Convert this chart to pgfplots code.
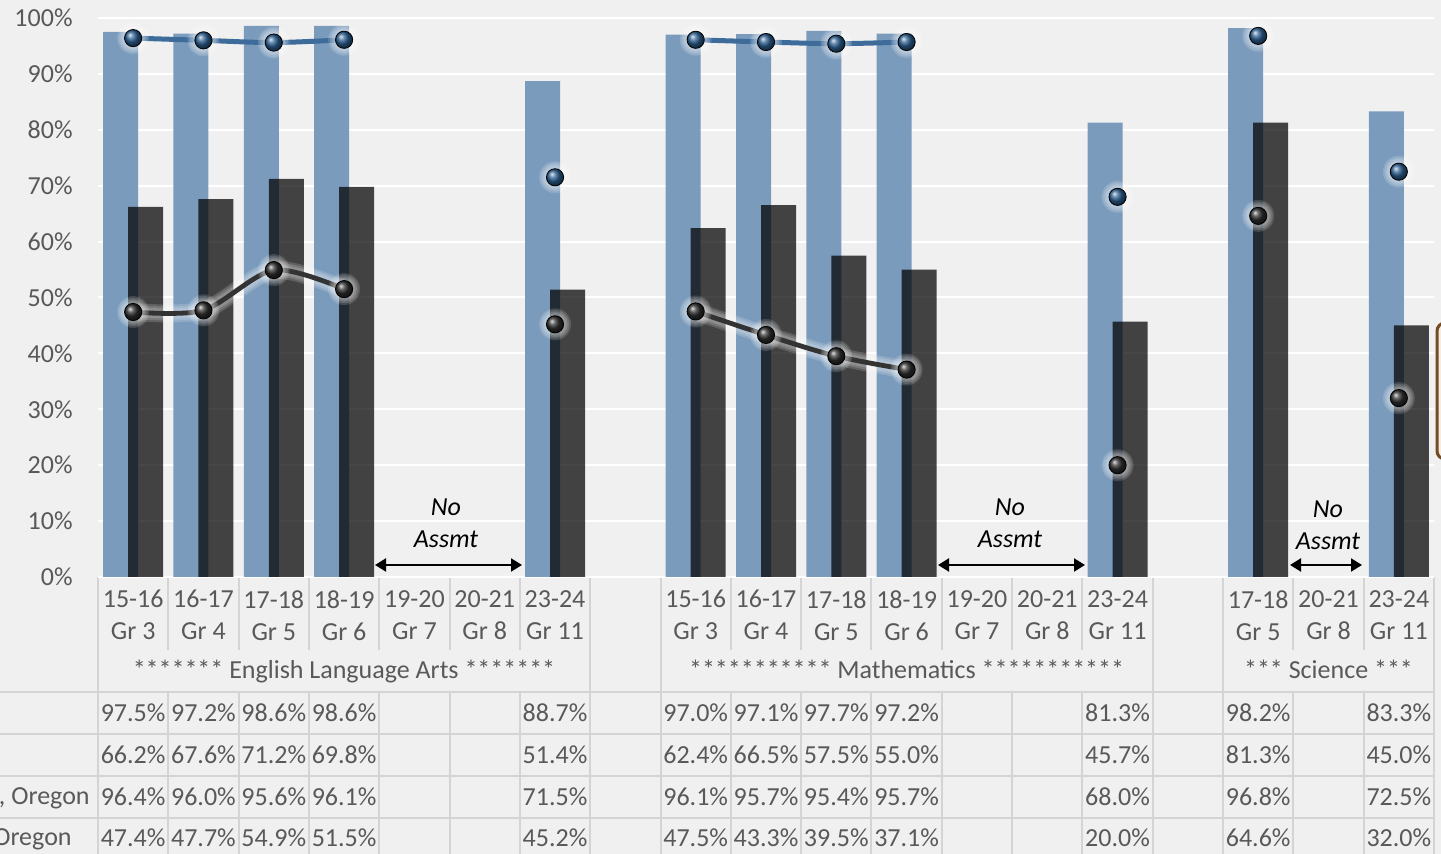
\documentclass[border=0pt]{standalone}
\usepackage{fontspec}
\setmainfont{Carlito}
\usepackage{pgfplots}
\pgfplotsset{compat=1.18}
\usepackage{pgfplotstable}
\usetikzlibrary{arrows.meta}

\definecolor{bgc}{HTML}{F0F0F0}
\definecolor{tbl}{HTML}{D4D4D4}
\definecolor{txt}{HTML}{595959}
\definecolor{barblue}{HTML}{7B9BBC}
\definecolor{lineblue}{HTML}{3D6C9B}
\definecolor{ballblue}{HTML}{2C5F90}
\definecolor{linedark}{HTML}{333333}
\definecolor{balldark}{HTML}{2E2E2E}

\newcommand{\tfont}{\fontsize{13}{16}\selectfont}

% participation (bars) and proficiency (lines) by test year / grade
% x: 0-6 ELA, 8-14 Mathematics, 16-18 Science
\pgfplotstableread{
x  bbar dbar bline dline
0  97.5 66.2 96.4 47.4
1  97.2 67.6 96.0 47.7
2  98.6 71.2 95.6 54.9
3  98.6 69.8 96.1 51.5
6  88.7 51.4 71.5 45.2
8  97.0 62.4 96.1 47.5
9  97.1 66.5 95.7 43.3
10 97.7 57.5 95.4 39.5
11 97.2 55.0 95.7 37.1
14 81.3 45.7 68.0 20.0
16 98.2 81.3 96.8 64.6
18 83.3 45.0 72.5 32.0
}\scores

\pgfplotsset{
  tablerow/.style={draw=none, mark=none, point meta=explicit,
    nodes near coords={\pgfmathprintnumber[fixed,fixed zerofill,precision=1]{\pgfplotspointmeta}\%},
    nodes near coords style={anchor=center, font=\tfont, text=txt, inner sep=0pt}},
  glow/.style={only marks, mark=*, mark size=#1, white,
    mark options={white, draw opacity=0, fill opacity=0.14, line width=0pt}},
  halo/.style={smooth, draw=white, line width=#1, opacity=0.16},
}

\begin{document}
\begin{tikzpicture}
\useasboundingbox (0,0) rectangle (720.5pt,427pt);
\fill[bgc] (0,0) rectangle (720.5pt,427pt);
\clip (0,0) rectangle (720.5pt,427pt);

% data table grid (pixel-style coordinates, origin top left)
\begin{scope}[x=0.5pt,y=-0.5pt,yshift=427pt, line width=1pt]
  \draw[tbl] (98,577) -- (1434,577);
  \foreach \yy in {692,734,776,818} \draw[tbl] (0,\yy) -- (1434,\yy);
  \foreach \k in {0,...,19} {
    \pgfmathsetmacro\xx{98+\k*70.316}
    \draw[tbl] (\xx,577) -- (\xx,650);
    \draw[tbl] (\xx,692) -- (\xx,870);
  }
  \foreach \k in {0,7,8,15,16,19} {
    \pgfmathsetmacro\xx{98+\k*70.316}
    \draw[tbl] (\xx,650) -- (\xx,692);
  }
\end{scope}

\begin{axis}[
  at={(49pt,138.5pt)}, anchor=south west,
  scale only axis, width=668pt, height=279.5pt,
  xmin=-0.5, xmax=18.5, ymin=0, ymax=100,
  clip=false,
  axis line style={draw=none},
  major tick style={draw=none},
  /pgf/number format/assume math mode=true,
  ytick={0,10,...,100},
  yticklabel={\pgfmathprintnumber{\tick}\%},
  yticklabel style={font=\tfont, text=txt, inner sep=0pt, anchor=east, xshift=-12.5pt},
  ymajorgrids, grid style={draw=white, line width=1pt},
  xtick={0,1,2,3,4,5,6,8,9,10,11,12,13,14,16,17,18},
  xticklabels={{15-16\\Gr 3},{16-17\\Gr 4},{17-18\\Gr 5},{18-19\\Gr 6},{19-20\\Gr 7},{20-21\\Gr 8},{23-24\\Gr 11},
               {15-16\\Gr 3},{16-17\\Gr 4},{17-18\\Gr 5},{18-19\\Gr 6},{19-20\\Gr 7},{20-21\\Gr 8},{23-24\\Gr 11},
               {17-18\\Gr 5},{20-21\\Gr 8},{23-24\\Gr 11}},
  xticklabel style={font=\tfont, text=txt, align=center, inner sep=0pt, anchor=north, yshift=-6.5pt},
]
% bars
\addplot[ybar, bar width=17.5pt, bar shift=-6.25pt, fill=barblue, draw=none] table[x=x,y=bbar]{\scores};
\addplot[ybar, bar width=17.5pt, bar shift=6.25pt, fill=black, fill opacity=0.72, draw=none] table[x=x,y=dbar]{\scores};

% trend lines with soft halo
\pgfplotsinvokeforeach{9pt,7pt,5pt}{
  \addplot[halo=#1, restrict x to domain=0:3] table[x=x,y=dline]{\scores};
  \addplot[halo=#1, restrict x to domain=8:11] table[x=x,y=dline]{\scores};
}
\addplot[smooth, draw=lineblue, line width=2.5pt, restrict x to domain=0:3] table[x=x,y=bline]{\scores};
\addplot[smooth, draw=lineblue, line width=2.5pt, restrict x to domain=8:11] table[x=x,y=bline]{\scores};
\addplot[smooth, draw=linedark, line width=2.4pt, restrict x to domain=0:3] table[x=x,y=dline]{\scores};
\addplot[smooth, draw=linedark, line width=2.4pt, restrict x to domain=8:11] table[x=x,y=dline]{\scores};

% markers with a soft white glow
\pgfplotsinvokeforeach{8pt,7.2pt,6.4pt,5.6pt}{
  \addplot[glow=#1] table[x=x,y=bline]{\scores};
  \addplot[glow=#1] table[x=x,y=dline]{\scores};
}
\addplot[only marks, mark=ball, mark size=4.3pt, mark options={ball color=ballblue}] table[x=x,y=bline]{\scores};
\addplot[only marks, mark=ball, mark size=4.3pt, mark options={ball color=balldark}] table[x=x,y=dline]{\scores};

% data table rows
\addplot[tablerow] table[x=x, y expr=-24.33, meta=bbar]{\scores};
\addplot[tablerow] table[x=x, y expr=-31.84, meta=dbar]{\scores};
\addplot[tablerow] table[x=x, y expr=-39.36, meta=bline]{\scores};
\addplot[tablerow] table[x=x, y expr=-46.69, meta=dline]{\scores};
\end{axis}

\begin{scope}[x=0.5pt,y=-0.5pt,yshift=427pt]
  % subject captions
  \node[font=\tfont, text=txt, anchor=base] at (344,679) {******* English Language Arts *******};
  \node[font=\tfont, text=txt, anchor=base] at (906.6,679) {*********** Mathematics ***********};
  \node[font=\tfont, text=txt, anchor=base] at (1328.5,679) {*** Science ***};
  % row captions
  \node[font=\tfont, text=txt, anchor=base east, inner sep=0pt] at (90,805) {, Oregon};
  \node[font=\tfont, text=txt, anchor=base east, inner sep=0pt] at (72,846) {Oregon};
  % years without an assessment
  \begin{scope}[line width=1pt, {Triangle[length=5.5pt,width=6.5pt]}-{Triangle[length=5.5pt,width=6.5pt]}]
    \draw (375,565) -- (522,565);
    \draw (938,565) -- (1085,565);
    \draw (1290,565) -- (1362,565);
  \end{scope}
  \node[font=\tfont\itshape, anchor=base] at (446,516) {No};
  \node[font=\tfont\itshape, anchor=base] at (446,548) {Assmt};
  \node[font=\tfont\itshape, anchor=base] at (1010,516) {No};
  \node[font=\tfont\itshape, anchor=base] at (1010,548) {Assmt};
  \node[font=\tfont\itshape, anchor=base] at (1328,518) {No};
  \node[font=\tfont\itshape, anchor=base] at (1328,550) {Assmt};
  % panel edge at the right
  \draw[draw=brown!60!black, fill=brown!15!white, line width=1.5pt, rounded corners=4pt] (1437,323) rectangle (1470,459);
\end{scope}
\end{tikzpicture}
\end{document}
